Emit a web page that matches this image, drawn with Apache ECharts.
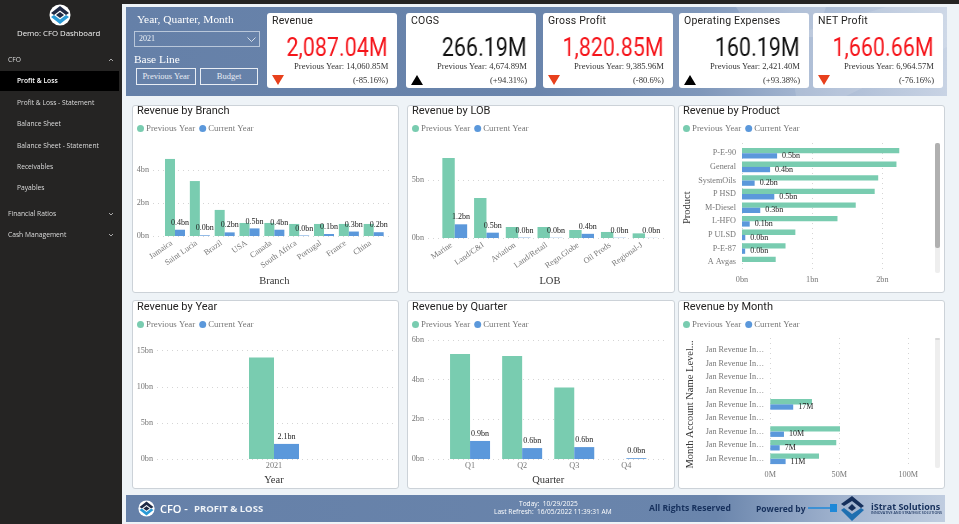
<!DOCTYPE html>
<html>
<head>
<meta charset="utf-8">
<title>CFO Dashboard</title>
<script src="https://cdn.jsdelivr.net/npm/echarts@6/dist/echarts.min.js"></script>
<style>
  html, body { margin: 0; padding: 0; width: 959px; height: 524px; overflow: hidden; background: #eef3f7; }
  .abs, .abs * { box-sizing: border-box; }
  .abs { position: absolute; white-space: nowrap; }
  #side { left: 0; top: 0; width: 122px; height: 524px; background: #252423; }
  #strip { left: 0; top: 0; width: 959px; height: 4px; background: #252423; }
  #side div { position: absolute; color: #dcdcdc; font: 6.7px "Open Sans", sans-serif; line-height: 10px; will-change: transform; }
  #side .sel { left: 0; top: 71px; width: 119px; height: 20px; background: #000; }
  #band { left: 126px; top: 7px; width: 821px; height: 89px; overflow: hidden;
    background: linear-gradient(90deg, #6580a8 0%, #6a85ac 50%, #7f97ba 70%, #a3b5d0 82%, #c8d3e4 100%); }
  .shape { position: absolute; left: 0; top: 0; width: 821px; height: 89px; }
  .serif { font-family: "Liberation Serif", serif; will-change: transform; }
  .card { position: absolute; top: 13px; width: 130px; height: 75px; background: #fff; border-radius: 3px; }
  .card div { will-change: transform; }
  .card .t { position: absolute; left: 5px; top: 1px; font: 10.5px/14px Roboto, sans-serif; color: #252423; letter-spacing: .2px; }
  .card .v { position: absolute; right: 9px; top: 21px; font: 25px/28px Roboto, sans-serif; transform: scaleX(.86); transform-origin: right center; }
  .card .p { position: absolute; right: 9px; top: 47px; font: 8.6px/12px "Liberation Serif", serif; color: #333; }
  .card .c { position: absolute; right: 9px; top: 61px; font: 8.6px/12px "Liberation Serif", serif; color: #333; }
  .card svg { position: absolute; left: 5px; top: 62px; }
  .panel { position: absolute; background: #fff; border: 1px solid #ccd2d8; border-radius: 3px; }
  .btn { position: absolute; top: 68px; height: 17px; border: 1.5px solid #e8edf4; color: #e8edf4; text-align: center;
    font: 8.5px/14px "Liberation Serif", serif; }
  #foot { left: 126px; top: 495px; width: 819px; height: 27px;
    background: linear-gradient(90deg, #6580a8 0%, #6a85ac 72%, #a3b5d0 88%, #c0cde0 100%); }
  .ft { position: absolute; font-family: "Open Sans", sans-serif; will-change: transform; }
</style>
</head>
<body>
<div id="strip" class="abs"></div>
<div id="side" class="abs">
  <svg style="position:absolute;left:49px;top:4px" width="22" height="22" viewBox="0 0 22 22">
    <circle cx="11" cy="11" r="10.5" fill="#fff"/>
    <path d="M11 2 L20 9 L17 11 L11 6.5 L5 11 L2 9 Z" fill="#1f2a44"/>
    <path d="M11 8 L15 11 L11 14 L7 11 Z" fill="#1f2a44"/>
    <path d="M2 13 L5 11 L11 15.5 L17 11 L20 13 L11 20 Z" fill="#2a9ad6"/>
  </svg>
  <div style="left:17px;top:28px;font-size:7.8px;font-weight:500;color:#f2f2f2">Demo: CFO Dashboard</div>
  <div style="left:8px;top:55px">CFO</div>
  <svg style="position:absolute;left:108px;top:58px" width="6" height="4" viewBox="0 0 6 4" fill="none" stroke="#ccc" stroke-width=".8"><path d="M1 3 L3 1 L5 3"/></svg>
  <div class="sel"></div>
  <div style="left:17px;top:76px;color:#fff;font-weight:600">Profit &amp; Loss</div>
  <div style="left:17px;top:98px">Profit &amp; Loss - Statement</div>
  <div style="left:17px;top:119px">Balance Sheet</div>
  <div style="left:17px;top:141px">Balance Sheet - Statement</div>
  <div style="left:17px;top:162px">Receivables</div>
  <div style="left:17px;top:183px">Payables</div>
  <div style="left:8px;top:209px">Financial Ratios</div>
  <div style="left:8px;top:230px">Cash Management</div>
  <svg style="position:absolute;left:108px;top:211px" width="6" height="30" viewBox="0 0 6 30" fill="none" stroke="#ccc" stroke-width=".8">
    <path d="M1 2 L3 4 L5 2"/><path d="M1 23 L3 25 L5 23"/>
  </svg>
</div>

<div id="band" class="abs">
  <svg class="shape" viewBox="0 0 821 89">
    <polygon points="610,0 700,0 690,30 630,30" fill="#fff" opacity=".16"/>
    <polygon points="660,30 760,0 821,0 821,40 720,89 670,89" fill="#fff" opacity=".12"/>
  </svg>
</div>
<div class="abs serif" style="left:137px;top:12px;font-size:11.4px;line-height:14px;color:#fff">Year, Quarter, Month</div>
<div class="abs" style="left:134px;top:31px;width:126px;height:16px;border:1px solid #b9c7da"></div>
<div class="abs serif" style="left:139px;top:34px;font-size:8px;line-height:10px;color:#eef2f7">2021</div>
<svg class="abs" style="left:247px;top:37px" width="9" height="5" viewBox="0 0 9 5" fill="none" stroke="#dfe6ef" stroke-width=".9"><path d="M.5 .5 L4.5 4.5 L8.5 .5"/></svg>
<div class="abs serif" style="left:134px;top:52px;font-size:11.4px;line-height:14px;color:#fff">Base Line</div>
<div class="btn abs" style="left:136px;width:60px">Previous Year</div>
<div class="btn abs" style="left:200px;width:58px">Budget</div>
<div id="cards"></div>

<div class="panel" style="left:132px;top:105px;width:265px;height:186px"></div>
<div class="panel" style="left:407px;top:105px;width:266px;height:186px"></div>
<div class="panel" style="left:678px;top:105px;width:265px;height:186px"></div>
<div class="panel" style="left:132px;top:300px;width:265px;height:187px"></div>
<div class="panel" style="left:407px;top:300px;width:266px;height:187px"></div>
<div class="panel" style="left:678px;top:300px;width:265px;height:187px"></div>

<div id="cBranch" class="abs" style="left:132px;top:105px;width:265px;height:186px"></div>
<div id="cLob" class="abs" style="left:407px;top:105px;width:266px;height:186px"></div>
<div id="cProduct" class="abs" style="left:678px;top:105px;width:265px;height:186px"></div>
<div id="cYear" class="abs" style="left:132px;top:300px;width:265px;height:187px"></div>
<div id="cQuarter" class="abs" style="left:407px;top:300px;width:266px;height:187px"></div>
<div id="cMonth" class="abs" style="left:678px;top:300px;width:265px;height:187px"></div>

<!-- scrollbars of the two list visuals -->
<div class="abs" style="left:935px;top:143px;width:5px;height:130px;background:#eeeeee;border-radius:2px"></div>
<div class="abs" style="left:935px;top:143px;width:5px;height:105px;background:#b0b0b0;border-radius:2px"></div>
<div class="abs" style="left:935px;top:338px;width:5px;height:130px;background:#eeeeee;border-radius:2px"></div>
<div class="abs" style="left:935px;top:338px;width:5px;height:2px;background:#d8d8d8;border-radius:1px"></div>

<div id="foot" class="abs">
  <svg style="position:absolute;left:12px;top:5px" width="17" height="17" viewBox="0 0 22 22">
    <circle cx="11" cy="11" r="10.5" fill="#fff"/>
    <path d="M11 2 L20 9 L17 11 L11 6.5 L5 11 L2 9 Z" fill="#1f2a44"/>
    <path d="M11 8 L15 11 L11 14 L7 11 Z" fill="#1f2a44"/>
    <path d="M2 13 L5 11 L11 15.5 L17 11 L20 13 L11 20 Z" fill="#2a9ad6"/>
  </svg>
  <div class="ft" style="left:34px;top:6px;font-size:11px;line-height:15px;font-weight:600;color:#fff">CFO -</div>
  <div class="ft" style="left:68px;top:7px;font-size:9.5px;line-height:13px;font-weight:700;color:#eef2f7">PROFIT &amp; LOSS</div>
  <div class="ft" style="left:393px;top:5px;font-size:6.6px;line-height:8px;color:#fff">Today:&nbsp; 10/29/2025</div>
  <div class="ft" style="left:368px;top:13px;font-size:6.6px;line-height:8px;color:#fff">Last Refresh:&nbsp; 16/05/2022 11:39:31 AM</div>
  <div class="ft" style="left:523px;top:7px;font-size:8.6px;line-height:13px;font-weight:700;color:#16305c">All Rights Reserved</div>
  <div class="ft" style="left:630px;top:7px;font-size:8.5px;line-height:13px;font-weight:700;color:#16305c">Powered by</div>
  <svg style="position:absolute;left:682px;top:0" width="60" height="27" viewBox="0 0 60 27">
    <path d="M0 13 H24" stroke="#1e88d8" stroke-width="1.5"/><rect x="22" y="9" width="7" height="8" fill="#1e88d8"/>
    <path d="M44 1 L56 11 L53 13 L44 6 L36 11 L33 9 Z M44 9 L48 13 L44 16 L40 13 Z" fill="#16305c"/>
    <path d="M33 15 L36 13 L44 19 L53 13 L56 15 L44 26 Z" fill="#1e6fb0"/>
  </svg>
  <div class="ft" style="left:745px;top:5px;font-size:9px;line-height:13px;font-weight:700;color:#16305c">iStrat Solutions</div>
  <div class="ft" style="left:745px;top:15px;font-size:3.6px;line-height:5px;font-weight:600;color:#16305c">INNOVATIVE AND STRATEGIC SOLUTIONS</div>
</div>

<script>
// KPI cards
const kpiTitles = ['Revenue', 'COGS', 'Gross Profit', 'Operating Expenses', 'NET Profit'];
const kpiValues = ['2,087.04M', '266.19M', '1,820.85M', '160.19M', '1,660.66M'];
const kpiPrevious = ['14,060.85M', '4,674.89M', '9,385.96M', '2,421.40M', '6,964.57M'];
const kpiChange = ['(-85.16%)', '(+94.31%)', '(-80.6%)', '(+93.38%)', '(-76.16%)'];
const kpiBad = [true, false, true, false, true];
const kpiLeft = [267, 406, 543, 679, 813];

// Revenue by Branch (bn)
const branchNames = ['Jamaica', 'Saint Lucia', 'Brazil', 'USA', 'Canada', 'South Africa', 'Portugal', 'France', 'China'];
const branchPrev = [4.67, 3.33, 1.58, 0.79, 0.79, 0.73, 0.73, 0.73, 0.73];
const branchCurr = [0.38, 0.04, 0.22, 0.46, 0.38, 0.03, 0.12, 0.27, 0.23];

// Revenue by LOB (bn)
const lobNames = ['Marine', 'Land/C&I', 'Aviation', 'Land/Retail', 'Regn.Globe', 'Oil Prods', 'Regional-J'];
const lobPrev = [6.9, 3.45, 0.95, 0.95, 0.69, 0.52, 0.4];
const lobCurr = [1.18, 0.46, 0.03, 0.02, 0.36, 0.02, 0.01];

// Revenue by Product (bn)
const productNames = ['P-E-90', 'General', 'SystemOils', 'P HSD', 'M-Diesel', 'L-HFO', 'P ULSD', 'P-E-87', 'A Avgas'];
const productPrev = [2.24, 2.2, 1.94, 1.89, 1.62, 1.36, 0.76, 0.62, 0.48];
const productCurr = [0.5, 0.4, 0.18, 0.46, 0.26, 0.11, 0.047, 0.045, null];

// Revenue by Year (bn)
const yearNames = ['2021'];
const yearPrev = [14.06];
const yearCurr = [2.09];

// Revenue by Quarter (bn)
const quarterNames = ['Q1', 'Q2', 'Q3', 'Q4'];
const quarterPrev = [5.29, 5.19, 3.6, null];
const quarterCurr = [0.91, 0.55, 0.6, 0.04];

// Revenue by Month (M)
const monthNames = ['Jan Revenue In…', 'Jan Revenue In…', 'Jan Revenue In…', 'Jan Revenue In…', 'Jan Revenue In…', 'Jan Revenue In…', 'Jan Revenue In…', 'Jan Revenue In…', 'Jan Revenue In…'];
const monthPrev = [null, null, null, null, 30.2, null, 50.5, 47.8, 35.3];
const monthCurr = [null, null, null, null, 16.6, null, 9.9, 6.8, 11.1];

const GREEN = '#79ccb0', BLUE = '#5b98db';
const SERIF = '"Liberation Serif", serif';

document.getElementById('cards').innerHTML = kpiTitles.map((t, i) => {
  let color = kpiBad[i] ? '#f5141a' : '#111';
  let arrow = kpiBad[i]
    ? '<polygon points="0,0 12,0 6,10" fill="#e8401c"/>'
    : '<polygon points="0,10 12,10 6,0" fill="#000"/>';
  return `<div class="card" style="left:${kpiLeft[i]}px">
    <div class="t">${t}</div>
    <div class="v" style="color:${color}">${kpiValues[i]}</div>
    <div class="p">Previous Year: ${kpiPrevious[i]}</div>
    <div class="c">${kpiChange[i]}</div>
    <svg width="12" height="10">${arrow}</svg>
  </div>`;
}).join('');

// row is 0 for the upper three panels, 1 for the lower three
function common(title, row) {
  return {
    animation: false,
    title: {
      text: title, left: 5, top: 1 + row, padding: 0,
      textStyle: { fontFamily: 'Roboto', fontSize: 11, fontWeight: 400, color: '#252423' }
    },
    legend: {
      left: 5, top: 19 + row, padding: 0, itemWidth: 7, itemHeight: 7, itemGap: 4, icon: 'circle',
      data: ['Previous Year', 'Current Year'],
      textStyle: { fontFamily: SERIF, fontSize: 8.8, color: '#777', padding: [0, 0, 0, -3] }
    }
  };
}

const gridLine = { show: true, lineStyle: { color: '#d5d5d5', type: [1, 4], width: 1 } };
const tickText = { fontFamily: SERIF, fontSize: 8.2, color: '#777' };
const hidden = { show: false };

function makeSeries(prev, curr, barWidth, horizontal, fmt) {
  return [
    { name: 'Previous Year', type: 'bar', data: prev, barWidth: barWidth, barGap: 0, itemStyle: { color: GREEN } },
    { name: 'Current Year', type: 'bar', data: curr, barWidth: barWidth, barGap: 0, itemStyle: { color: BLUE },
      label: {
        show: true, position: horizontal ? 'right' : 'top', distance: horizontal ? 5 : 3,
        fontFamily: SERIF, fontSize: 8, color: '#222', formatter: p => fmt(p.value)
      } }
  ];
}

const bn = v => v.toFixed(1) + 'bn';
const mn = v => Math.round(v) + 'M';

// c: { names, prev, curr, barW, left, width, top, height, wideLeft, wideWidth, max, interval, xName, nameGap, rotate }
function columnChart(id, title, row, c) {
  const opt = common(title, row);
  // v6 shrinks a grid to keep axis text inside the canvas unless told not to
  opt.grid = [
    { left: c.left, width: c.width, top: c.top, height: c.height, outerBoundsMode: 'none' },
    { left: c.wideLeft, width: c.wideWidth, top: c.top, height: c.height, outerBoundsMode: 'none' }
  ];
  opt.xAxis = [
    { type: 'category', gridIndex: 0, data: c.names, name: c.xName, nameLocation: 'middle', nameGap: c.nameGap,
      nameTextStyle: { fontFamily: SERIF, fontSize: 10.5, color: '#333' },
      axisLine: hidden, axisTick: hidden,
      axisLabel: Object.assign({ interval: 0, rotate: c.rotate || 0, margin: c.rotate ? 4 : 3,
        padding: c.rotate ? [0, 4, 0, 0] : 0, hideOverlap: false }, tickText) },
    { type: 'category', gridIndex: 1, data: [''], show: false }
  ];
  opt.yAxis = [
    { type: 'value', gridIndex: 0, min: 0, max: c.max, interval: c.interval, show: false },
    { type: 'value', gridIndex: 1, min: 0, max: c.max, interval: c.interval,
      axisLine: hidden, axisTick: hidden, splitLine: Object.assign({ showMaxLine: c.showMax }, gridLine),
      axisLabel: Object.assign({ margin: 4, showMaxLabel: c.showMax, formatter: v => v + 'bn' }, tickText) }
  ];
  opt.series = makeSeries(c.prev, c.curr, c.barW, false, bn);
  echarts.init(document.getElementById(id)).setOption(opt);
}

// c: { names, prev, curr, barW, left, width, top, height, wideTop, wideHeight, max, interval, yName, nameGap, fmt, tick }
function barChart(id, title, row, c) {
  const opt = common(title, row);
  opt.grid = [
    { left: c.left, width: c.width, top: c.top, height: c.height, outerBoundsMode: 'none' },
    { left: c.left, width: c.width, top: c.wideTop, height: c.wideHeight, outerBoundsMode: 'none' }
  ];
  opt.yAxis = [
    { type: 'category', gridIndex: 0, inverse: true, data: c.names, name: c.yName, nameLocation: 'middle', nameGap: c.nameGap,
      nameMoveOverlap: false, nameRotate: 90, nameTextStyle: { fontFamily: SERIF, fontSize: 10.5, color: '#333' },
      axisLine: hidden, axisTick: hidden,
      axisLabel: Object.assign({ interval: 0, margin: 6 }, tickText) },
    { type: 'category', gridIndex: 1, data: [''], show: false }
  ];
  opt.xAxis = [
    { type: 'value', gridIndex: 0, min: 0, max: c.max, interval: c.interval, show: false },
    { type: 'value', gridIndex: 1, min: 0, max: c.max, interval: c.interval,
      axisLine: hidden, axisTick: hidden, splitLine: Object.assign({ showMaxLine: false }, gridLine),
      axisLabel: Object.assign({ margin: 3, showMaxLabel: false, formatter: c.tick }, tickText) }
  ];
  opt.series = makeSeries(c.prev, c.curr, c.barW, true, c.fmt);
  echarts.init(document.getElementById(id)).setOption(opt);
}

columnChart('cBranch', 'Revenue by Branch', 0, {
  names: branchNames, prev: branchPrev, curr: branchCurr, barW: 10,
  left: 30.6, width: 223.5, top: 51.8, height: 79.2, wideLeft: 21, wideWidth: 239,
  max: 4.8, interval: 2, showMax: false, xName: 'Branch', nameGap: 40, rotate: 35
});
columnChart('cLob', 'Revenue by LOB', 0, {
  names: lobNames, prev: lobPrev, curr: lobCurr, barW: 12.4,
  left: 31.9, width: 222, top: 51.8, height: 81.2, wideLeft: 21, wideWidth: 240,
  max: 7, interval: 5, showMax: false, xName: 'LOB', nameGap: 38, rotate: 35
});
barChart('cProduct', 'Revenue by Product', 0, {
  names: productNames, prev: productPrev, curr: productCurr, barW: 5.3,
  left: 64, width: 168.5, top: 41.5, height: 122.4, wideTop: 38, wideHeight: 130,
  max: 2.4, interval: 1, yName: 'Product', nameGap: 49, fmt: bn, tick: v => v + 'bn'
});
columnChart('cYear', 'Revenue by Year', 1, {
  names: yearNames, prev: yearPrev, curr: yearCurr, barW: 25,
  left: 23, width: 238, top: 50.7, height: 108.3, wideLeft: 25, wideWidth: 236,
  max: 15, interval: 5, showMax: true, xName: 'Year', nameGap: 14
});
columnChart('cQuarter', 'Revenue by Quarter', 1, {
  names: quarterNames, prev: quarterPrev, curr: quarterCurr, barW: 20,
  left: 37, width: 208.4, top: 40, height: 119, wideLeft: 21, wideWidth: 240,
  max: 6, interval: 2, showMax: true, xName: 'Quarter', nameGap: 14
});
barChart('cMonth', 'Revenue by Month', 1, {
  names: monthNames, prev: monthPrev, curr: monthCurr, barW: 5.3,
  left: 92.3, width: 151.8, top: 43.2, height: 122.4, wideTop: 38, wideHeight: 130,
  max: 110, interval: 50, yName: 'Month Account Name Level...', nameGap: 75, fmt: mn, tick: v => v + 'M'
});
</script>
</body>
</html>
